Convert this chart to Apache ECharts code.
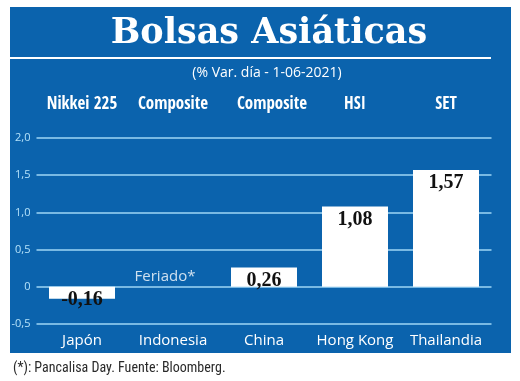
<!DOCTYPE html>
<html>
<head>
<meta charset="utf-8">
<script src="https://cdn.jsdelivr.net/npm/echarts@6/dist/echarts.min.js"></script>
<style>
html,body{margin:0;padding:0;background:#fff;}
#chart{width:520px;height:381px;}
</style>
</head>
<body>
<div id="chart"></div>
<script>
// ---- data ----
const countries = ['Japón', 'Indonesia', 'China', 'Hong Kong', 'Thailandia'];
const indices = ['Nikkei 225', 'Composite', 'Composite', 'HSI', 'SET'];
const varDia = [-0.16, null, 0.26, 1.08, 1.57];
const notes = ['', 'Feriado*', '', '', ''];
const yTickLabels = { '-0.5': '-0,5', '0': '0', '0.5': '0,5', '1': '1,0', '1.5': '1,5', '2': '2,0' };
const titleText = 'Bolsas Asiáticas';
const subtitleText = '(% Var. día - 1-06-2021)';
const footerText = '(*): Pancalisa Day. Fuente: Bloomberg.';

const BLUE = '#0b63ad';
const GRID = '#9fd6f6';

const chart = echarts.init(document.getElementById('chart'), null, { renderer: 'canvas' });

const noteData = notes.map((n, i) => n ? [countries[i], 0] : null).filter(Boolean);

chart.setOption({
  animation: false,
  backgroundColor: '#ffffff',
  graphic: [
    { type: 'rect', z: -10, shape: { x: 10, y: 7, width: 501, height: 346 }, style: { fill: BLUE } },
    { type: 'text', x: 269, y: 34, style: { text: titleText, fill: '#fff', font: 'bold 35px "DejaVu Serif", serif', textAlign: 'center', textVerticalAlign: 'middle' } },
    { type: 'line', shape: { x1: 10, y1: 58, x2: 491, y2: 58 }, style: { stroke: '#ffffff', lineWidth: 2 } },
    { type: 'text', x: 267, y: 73, style: { text: subtitleText, fill: '#fff', font: '14px "Open Sans", sans-serif', textAlign: 'center', textVerticalAlign: 'middle' } },
    { type: 'text', x: 13, y: 368, style: { text: footerText, fill: '#2a2a2a', font: '14px "Roboto Condensed", sans-serif', textAlign: 'left', textVerticalAlign: 'middle' } }
  ],
  grid: { left: 36.5, right: 28.5, top: 138, bottom: 57 },
  xAxis: [
    {
      type: 'category', data: countries, position: 'bottom',
      axisLine: { show: false, onZero: false }, axisTick: { show: false },
      axisLabel: { interval: 0, color: '#fff', fontFamily: 'Open Sans', fontSize: 15, margin: 9 }
    },
    {
      type: 'category', data: indices, position: 'top',
      axisLine: { show: false }, axisTick: { show: false },
      axisLabel: {
        interval: 0, color: '#fff', fontFamily: 'Open Sans Condensed', fontWeight: 'bold', fontSize: 17, margin: 25,
        formatter: (v, i) => i === 2 ? '{s|' + v + '}' : v,
        rich: { s: { color: '#fff', fontFamily: 'Open Sans Condensed', fontWeight: 'bold', fontSize: 17, padding: [0, 0, 0, 16] } }
      }
    }
  ],
  yAxis: {
    type: 'value', min: -0.5, max: 2.0, interval: 0.5,
    axisLine: { show: false }, axisTick: { show: false },
    splitLine: { lineStyle: { color: GRID, width: 1.5 } },
    axisLabel: {
      color: '#b5e2fa', fontFamily: 'Open Sans', fontSize: 11, margin: 6,
      formatter: v => yTickLabels[String(Math.round(v * 10) / 10)] ?? String(v)
    }
  },
  series: [
    {
      type: 'bar', data: varDia, barWidth: 66, xAxisIndex: 0,
      itemStyle: { color: '#ffffff' },
      label: {
        show: true, position: 'insideTop', distance: 3,
        color: '#111', fontFamily: '"Liberation Serif", serif', fontWeight: 'bold', fontSize: 20,
        formatter: p => p.value == null ? '' : p.value.toFixed(2).replace('.', ',')
      }
    },
    {
      type: 'scatter', data: noteData, symbolSize: 0, xAxisIndex: 0,
      label: {
        show: true, position: 'top', distance: 3, offset: [-8, 0],
        color: '#fff', fontFamily: 'Open Sans', fontSize: 15,
        formatter: p => notes[countries.indexOf(p.value[0])]
      }
    }
  ]
});
</script>
</body>
</html>
